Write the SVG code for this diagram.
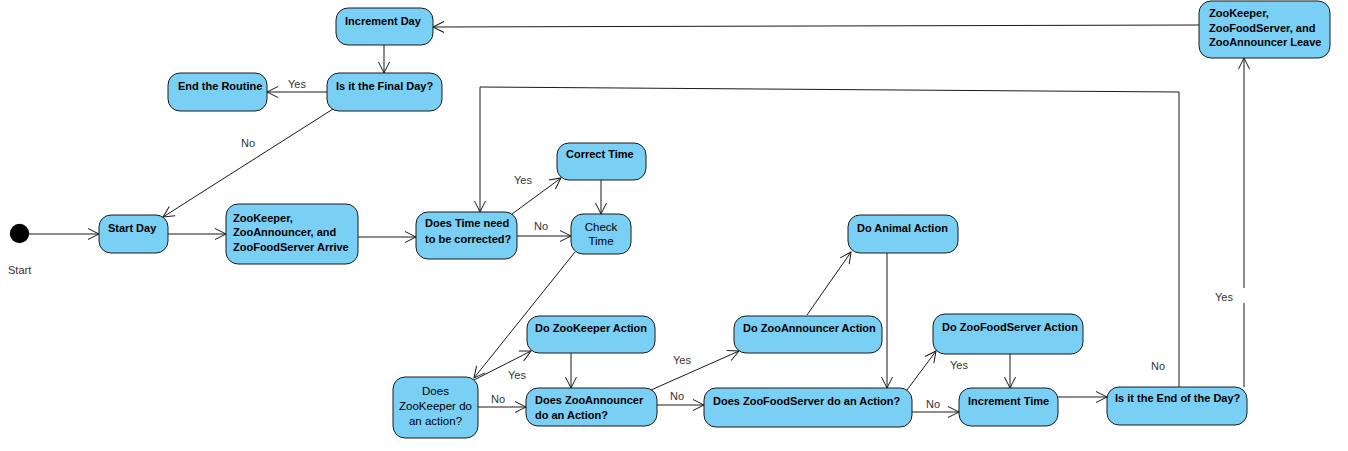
<svg xmlns="http://www.w3.org/2000/svg" width="1348" height="451" viewBox="0 0 1348 451">
  <defs>
    <style>
      .node rect { fill: #7ACFF5; stroke: #1a1a1a; stroke-width: 1; }
      .node text { font-family: "Liberation Sans", Arial, sans-serif; font-size: 11px; font-weight: bold; fill: #000; }
      .node text.plain { font-weight: normal; font-size: 11.5px; }
      .edges path { fill: none; stroke: #1a1a1a; stroke-width: 1; }
      .edges path.arr { marker-end: url(#open); }
      .lbl { font-family: "Liberation Sans", Arial, sans-serif; font-size: 11px; fill: #333; }
    </style>
    <marker id="open" markerUnits="userSpaceOnUse" markerWidth="14" markerHeight="14" refX="12" refY="6" orient="auto">
      <path d="M1,0.5 L12,6 L1,11.5" fill="none" stroke="#1a1a1a" stroke-width="1"/>
    </marker>
  </defs>
  <rect width="1348" height="451" fill="#fff"/>

  <!-- connectors -->
  <g id="connectors" class="edges">
    <path class="arr" d="M29,234 L99,234"/>
    <path class="arr" d="M168,234 L226,234"/>
    <path class="arr" d="M358,237 L416,237"/>
    <path class="arr" d="M512,214 L561,178"/>
    <path class="arr" d="M517,236 L571,236"/>
    <path class="arr" d="M601,180 L601,214"/>
    <path class="arr" d="M575,252 L474,378"/>
    <path class="arr" d="M474,380 L531,351"/>
    <path class="arr" d="M478,407 L526,407"/>
    <path class="arr" d="M571,353 L571,388"/>
    <path class="arr" d="M651,390 L739,351"/>
    <path class="arr" d="M657,405 L704,405"/>
    <path class="arr" d="M807,315 L851,252"/>
    <path class="arr" d="M887,253 L887,388"/>
    <path class="arr" d="M907,390 L936,351"/>
    <path class="arr" d="M912,412 L959,412"/>
    <path class="arr" d="M1010,354 L1010,388"/>
    <path class="arr" d="M1058,397 L1107,397"/>
    <path d="M1244,387 L1244,303"/>
    <path class="arr" d="M1244,288 L1244,58"/>
    <path class="arr" d="M1179,387 L1179,92 L480,87 L480,212"/>
    <path class="arr" d="M1199,25 L433,27"/>
    <path class="arr" d="M384,45 L384,73"/>
    <path class="arr" d="M327,92 L267,92"/>
    <path class="arr" d="M333,109 L163,217"/>

    <text class="lbl" x="288" y="88">Yes</text>
    <text class="lbl" x="241" y="147">No</text>
    <text class="lbl" x="514" y="184">Yes</text>
    <text class="lbl" x="534" y="230">No</text>
    <text class="lbl" x="508" y="379">Yes</text>
    <text class="lbl" x="491" y="403">No</text>
    <text class="lbl" x="673" y="364">Yes</text>
    <text class="lbl" x="670" y="400">No</text>
    <text class="lbl" x="950" y="369">Yes</text>
    <text class="lbl" x="926" y="408">No</text>
    <text class="lbl" x="1151" y="370">No</text>
    <text class="lbl" x="1215" y="301">Yes</text>
  </g>

  <!-- start node -->
  <g id="start">
    <circle cx="19.5" cy="233.5" r="9.7" fill="#000"/>
    <text class="lbl" x="8" y="274">Start</text>
  </g>

  <g id="start-day" class="node">
    <rect x="99" y="215" width="69" height="38" rx="12"/>
    <text x="108" y="232">Start Day</text>
  </g>

  <g id="arrive" class="node">
    <rect x="226" y="204" width="132" height="60" rx="12"/>
    <text x="233" y="222">ZooKeeper,</text>
    <text x="233" y="236">ZooAnnouncer, and</text>
    <text x="233" y="251">ZooFoodServer Arrive</text>
  </g>

  <g id="time-check" class="node">
    <rect x="416" y="212" width="101" height="47" rx="12"/>
    <text x="425" y="227">Does Time need</text>
    <text x="425" y="243">to be corrected?</text>
  </g>

  <g id="correct-time" class="node">
    <rect x="557" y="143" width="89" height="37" rx="12"/>
    <text x="566" y="158">Correct Time</text>
  </g>

  <g id="check-time" class="node">
    <rect x="571" y="214" width="60" height="40" rx="12"/>
    <text class="plain" x="601" y="231" text-anchor="middle">Check</text>
    <text class="plain" x="601" y="245" text-anchor="middle">Time</text>
  </g>

  <g id="keeper-q" class="node">
    <rect x="393" y="377" width="85" height="61" rx="12"/>
    <text class="plain" x="435.5" y="395" text-anchor="middle">Does</text>
    <text class="plain" x="435.5" y="410" text-anchor="middle">ZooKeeper do</text>
    <text class="plain" x="435.5" y="425" text-anchor="middle">an action?</text>
  </g>

  <g id="keeper-action" class="node">
    <rect x="527" y="316" width="128" height="37" rx="12"/>
    <text x="535" y="332">Do ZooKeeper Action</text>
  </g>

  <g id="announcer-q" class="node">
    <rect x="526" y="388" width="131" height="38" rx="12"/>
    <text x="535" y="404">Does ZooAnnouncer</text>
    <text x="535" y="419">do an Action?</text>
  </g>

  <g id="announcer-action" class="node">
    <rect x="734" y="316" width="148" height="37" rx="12"/>
    <text x="743" y="332">Do ZooAnnouncer Action</text>
  </g>

  <g id="animal-action" class="node">
    <rect x="848" y="215" width="110" height="38" rx="12"/>
    <text x="857" y="232">Do Animal Action</text>
  </g>

  <g id="foodserver-q" class="node">
    <rect x="704" y="388" width="208" height="39" rx="12"/>
    <text x="713" y="405">Does ZooFoodServer do an Action?</text>
  </g>

  <g id="foodserver-action" class="node">
    <rect x="933" y="314" width="150" height="40" rx="12"/>
    <text x="942" y="331">Do ZooFoodServer Action</text>
  </g>

  <g id="increment-time" class="node">
    <rect x="959" y="388" width="99" height="38" rx="12"/>
    <text x="968" y="405">Increment Time</text>
  </g>

  <g id="end-of-day" class="node">
    <rect x="1107" y="387" width="140" height="38" rx="12"/>
    <text x="1115" y="402">Is it the End of the Day?</text>
  </g>

  <g id="leave" class="node">
    <rect x="1199" y="1" width="131" height="57" rx="12"/>
    <text x="1209" y="17">ZooKeeper,</text>
    <text x="1209" y="32">ZooFoodServer, and</text>
    <text x="1209" y="46">ZooAnnouncer Leave</text>
  </g>

  <g id="increment-day" class="node">
    <rect x="336" y="8" width="97" height="37" rx="12"/>
    <text x="345" y="25">Increment Day</text>
  </g>

  <g id="final-day" class="node">
    <rect x="327" y="73" width="115" height="38" rx="12"/>
    <text x="336" y="90">Is it the Final Day?</text>
  </g>

  <g id="end-routine" class="node">
    <rect x="168" y="73" width="99" height="38" rx="12"/>
    <text x="178" y="90">End the Routine</text>
  </g>
</svg>
